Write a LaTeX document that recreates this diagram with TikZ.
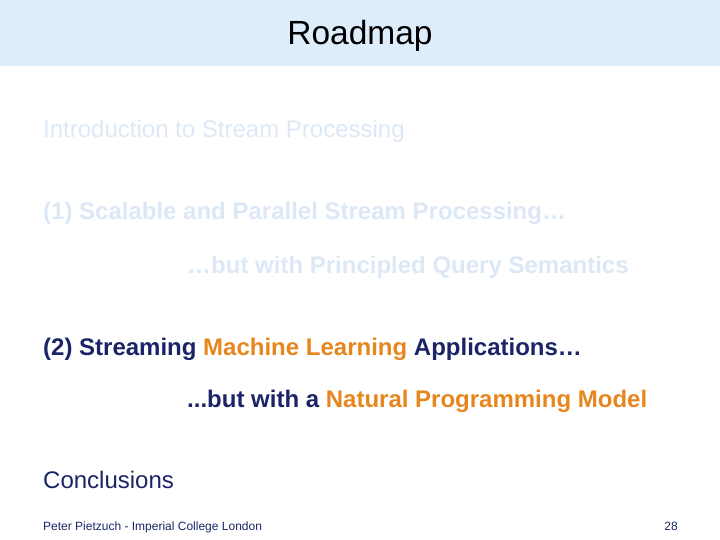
\documentclass[tikz,border=0pt]{standalone}
\usepackage{fontspec}
\setmainfont{Liberation Sans}
\definecolor{hdr}{HTML}{DDEDFB}
\definecolor{fade}{HTML}{DCE8F6}
\definecolor{navy}{HTML}{1A2466}
\definecolor{org}{HTML}{E8861E}
\tikzset{txt/.style={anchor=base west,inner sep=0pt,font=\fontsize{24}{28}\selectfont},
 bt/.style={txt,font=\fontsize{24}{28}\selectfont\bfseries}}
\begin{document}
\begin{tikzpicture}[x=1pt,y=-1pt]
\useasboundingbox (0,0) rectangle (720,540);
\fill[hdr] (0,0) rectangle (720,66);
\node[anchor=base,inner sep=0pt,font=\fontsize{33.5}{38}\selectfont] (title) at (360,45) {Roadmap};
\node[txt,text=fade] (intro) at (43,138) {Introduction to Stream Processing};
\node[bt,text=fade] (one) at (43,220) {(1) Scalable and Parallel Stream Processing…};
\node[bt,text=fade] (onea) at (187,273) {…but with Principled Query Semantics};
\node[bt,text=navy] (two) at (43,355) {(2) Streaming \textcolor{org}{Machine Learning} Applications…};
\node[bt,text=navy] (twoa) at (187,407) {...but with a \textcolor{org}{Natural Programming Model}};
\node[txt,text=navy] (concl) at (43,488) {Conclusions};
\node[anchor=base west,inner sep=0pt,font=\fontsize{12}{14}\selectfont,text=navy] (foot) at (43,530) {Peter Pietzuch - Imperial College London};
\node[anchor=base east,inner sep=0pt,font=\fontsize{12}{14}\selectfont,text=navy] (page) at (678,530) {28};
\end{tikzpicture}
\end{document}
